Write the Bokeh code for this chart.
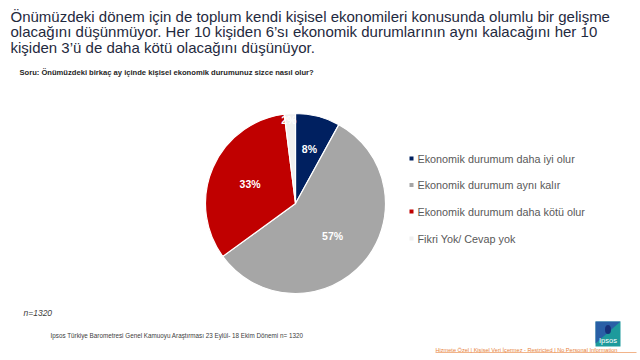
import math
from bokeh.plotting import figure
from bokeh.models import Range1d, ColumnDataSource
from bokeh.core.properties import value
from bokeh.embed import file_html
from bokeh.resources import INLINE

# ---- data ----
categories = ["Ekonomik durumum daha iyi olur",
              "Ekonomik durumum aynı kalır",
              "Ekonomik durumum daha kötü olur",
              "Fikri Yok/ Cevap yok"]
shares = [8, 57, 33, 2]
colors = ["#002060", "#a6a6a6", "#c00000", "#f0f0f0"]
label_texts = ["8%", "57%", "33%", "2%"]

title_lines = ["Önümüzdeki dönem için de toplum kendi kişisel ekonomileri konusunda olumlu bir gelişme",
               "olacağını düşünmüyor. Her 10 kişiden 6’sı ekonomik durumlarının aynı kalacağını her 10",
               "kişiden 3’ü de daha kötü olacağını düşünüyor."]
question = "Soru:  Önümüzdeki birkaç ay içinde kişisel ekonomik durumunuz sizce nasıl olur?"
n_note = "n=1320"
source_note = "Ipsos Türkiye Barometresi Genel Kamuoyu Araştırması 23  Eylül- 18 Ekim Dönemi n= 1320"
class_note = "Hizmete Özel | Kişisel Veri İçermez - Restricted | No Personal Information"

W, H = 640, 360
def Y(py):
    return H - py

p = figure(width=W, height=H, x_range=Range1d(0, W), y_range=Range1d(0, H),
           output_backend="svg", toolbar_location=None,
           x_axis_type=None, y_axis_type=None, min_border=0)
p.outline_line_color = None
p.xgrid.visible = False
p.ygrid.visible = False
p.background_fill_color = "white"
p.border_fill_color = "white"

FONT = "Liberation Sans"

# ---- pie ----
cx, cy, r = 295, Y(203), 90
total = sum(shares)
starts, ends, lx, ly = [], [], [], []
cum = 0.0
label_r = [0.62, 0.55, 0.55, 0.93]
label_shift = [0, 0, 0, -1.5]
for i, s in enumerate(shares):
    a0 = math.pi / 2 - 2 * math.pi * cum / total
    cum += s
    a1 = math.pi / 2 - 2 * math.pi * cum / total
    starts.append(a0)
    ends.append(a1)
    mid = (a0 + a1) / 2
    lx.append(cx + r * label_r[i] * math.cos(mid) + label_shift[i])
    ly.append(cy + r * label_r[i] * math.sin(mid))

src = ColumnDataSource(dict(start=starts, end=ends, color=colors, lx=lx, ly=ly, lab=label_texts))
p.wedge(x=cx, y=cy, radius=r, start_angle="start", end_angle="end", direction="clock",
        fill_color="color", line_color="white", line_width=1.2, source=src)
p.text(x="lx", y="ly", text="lab", source=src, text_color="white", text_font=value(FONT),
       text_font_style="bold", text_font_size="10.5px", text_align="center", text_baseline="middle")

# ---- legend ----
leg_y = [Y(158), Y(184.5), Y(211), Y(238)]
leg = ColumnDataSource(dict(x=[411] * 4, tx=[417] * 4, y=leg_y, c=colors, t=categories))
p.rect(x="x", y="y", width=4, height=4, fill_color="c", line_color=None, source=leg)
p.text(x="tx", y="y", text="t", source=leg, text_color="#595959", text_font=value(FONT),
       text_font_size="10.8px", text_baseline="middle")

# ---- title and notes ----
for i, line in enumerate(title_lines):
    p.text(x=[10], y=[Y(15.5 + 15.6 * i)], text=[line], text_color="#1f2a40",
           text_font=value(FONT), text_font_size="15px", text_baseline="alphabetic")

p.text(x=[19], y=[Y(72)], text=[question], text_color="#262626", text_font=value(FONT),
       text_font_size="7.6px", text_font_style="bold", text_baseline="middle")
p.text(x=[23], y=[Y(312)], text=[n_note], text_color="#404040", text_font=value(FONT),
       text_font_size="8.5px", text_font_style="italic", text_baseline="middle")
p.text(x=[50], y=[Y(335)], text=[source_note], text_color="#404040", text_font=value(FONT),
       text_font_size="6.3px", text_baseline="middle")

# logo
p.quad(left=[595], right=[620], top=[Y(321)], bottom=[Y(346)], fill_color="#1d9a9c", line_color=None)
p.patch(x=[595, 620, 595], y=[Y(321), Y(321), Y(343)], fill_color="#2c55a8", fill_alpha=0.85, line_color=None)
p.ellipse(x=[607.5], y=[Y(329)], width=6, height=9, fill_color="#16307a", line_color=None)
p.text(x=[607.5], y=[Y(339.5)], text=["Ipsos"], text_color="white", text_font=value(FONT),
       text_font_size="7.5px", text_align="center", text_baseline="middle")

p.text(x=[435], y=[Y(349)], text=[class_note], text_color="#e8823a", text_font=value(FONT),
       text_font_size="5.6px", text_baseline="middle")
p.segment(x0=[435], y0=[Y(352)], x1=[636], y1=[Y(352)], line_color="#e8823a", line_width=0.6)

open("out.html", "w").write(file_html(p, INLINE))
